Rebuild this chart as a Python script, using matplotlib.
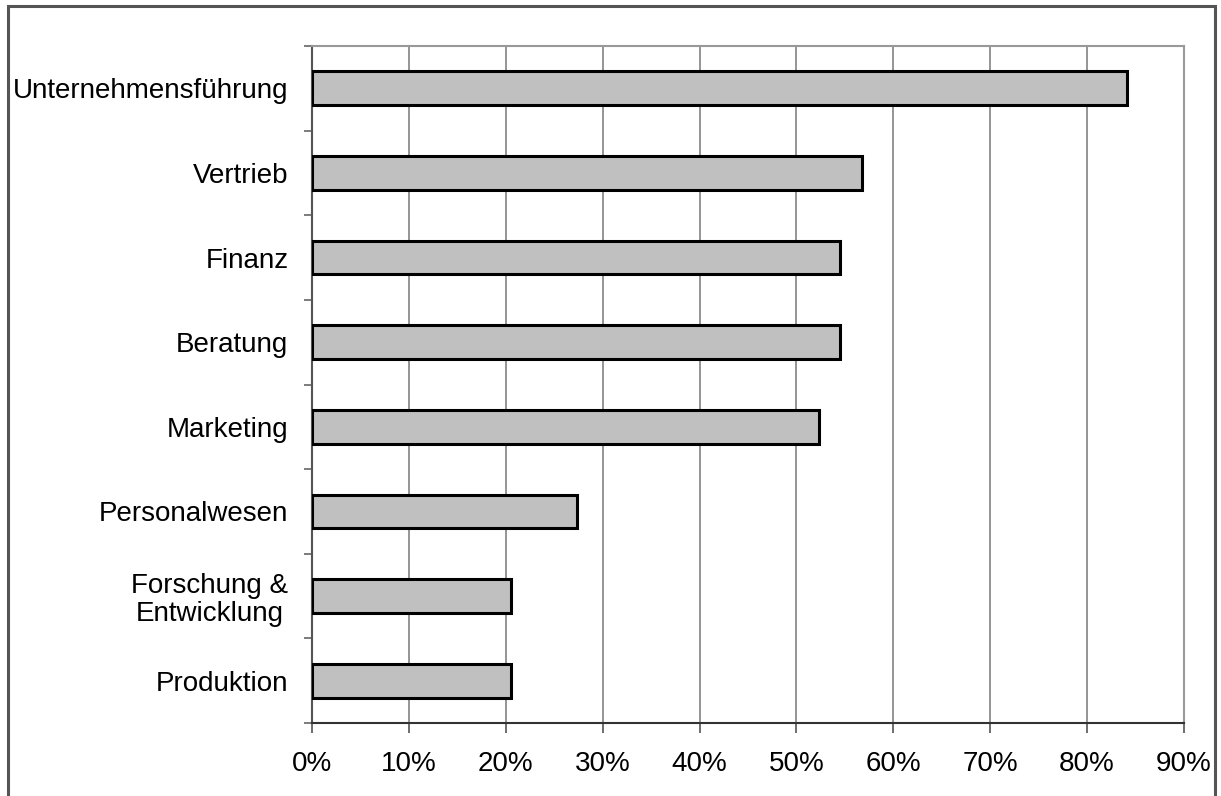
import numpy as np
import matplotlib
matplotlib.use("Agg")
import matplotlib.pyplot as plt
from matplotlib.patches import Rectangle
from matplotlib.ticker import FixedLocator, FuncFormatter

plt.rcParams['font.family'] = ['Liberation Sans', 'DejaVu Sans']

# Anteil der Nennungen je Bereich (in %)
bereiche = ["Unternehmensführung", "Vertrieb", "Finanz", "Beratung", "Marketing",
            "Personalwesen", "Forschung &\nEntwicklung", "Produktion"]
anteile = [84.1, 56.8, 54.5, 54.5, 52.3, 27.3, 20.5, 20.5]
x_ticks = [0, 10, 20, 30, 40, 50, 60, 70, 80, 90]

fig = plt.figure(figsize=(12.21, 7.96), dpi=100)
ax = fig.add_axes([312 / 1221, 1 - 723 / 796, (1184 - 312) / 1221, (723 - 46) / 796])

y = np.arange(len(bereiche))
ax.barh(y, anteile, height=0.4, color="#c0c0c0", edgecolor="black", linewidth=2.2, zorder=3)

ax.set_xlim(0, 90)
ax.set_ylim(len(bereiche) - 0.5, -0.5)

ax.set_xticks(x_ticks)
ax.xaxis.set_major_formatter(FuncFormatter(lambda v, p: f"{v:.0f}%"))
ax.grid(axis="x", color="#8c8c8c", linewidth=1.3, zorder=0)

# Trennstriche zwischen den Kategorien, Beschriftung mittig
ax.yaxis.set_major_locator(FixedLocator(np.arange(-0.5, len(bereiche), 1.0)))
ax.yaxis.set_major_formatter(FuncFormatter(lambda v, p: ""))
ax.yaxis.set_minor_locator(FixedLocator(y))
ax.set_yticklabels(bereiche, minor=True, multialignment="center", linespacing=1.12)

ax.tick_params(axis="y", which="major", length=6, width=1.2, color="#666666")
ax.tick_params(axis="y", which="minor", length=0, pad=17, labelsize=20)
ax.tick_params(axis="x", length=7, width=1.2, color="#555555", pad=13, labelsize=20)

ax.spines["top"].set_color("#999999")
ax.spines["right"].set_color("#999999")
ax.spines["left"].set_color("#555555")
ax.spines["bottom"].set_color("#333333")
for s in ax.spines.values():
    s.set_linewidth(1.5)

# Rahmen um die Grafik
fig.patches.append(Rectangle((8 / 1221, -0.05), (1215 - 8) / 1221, 1 - 6 / 796 + 0.05,
                             transform=fig.transFigure, fill=False,
                             edgecolor="#555555", linewidth=2.2))

fig.savefig("out.png", dpi=100)
